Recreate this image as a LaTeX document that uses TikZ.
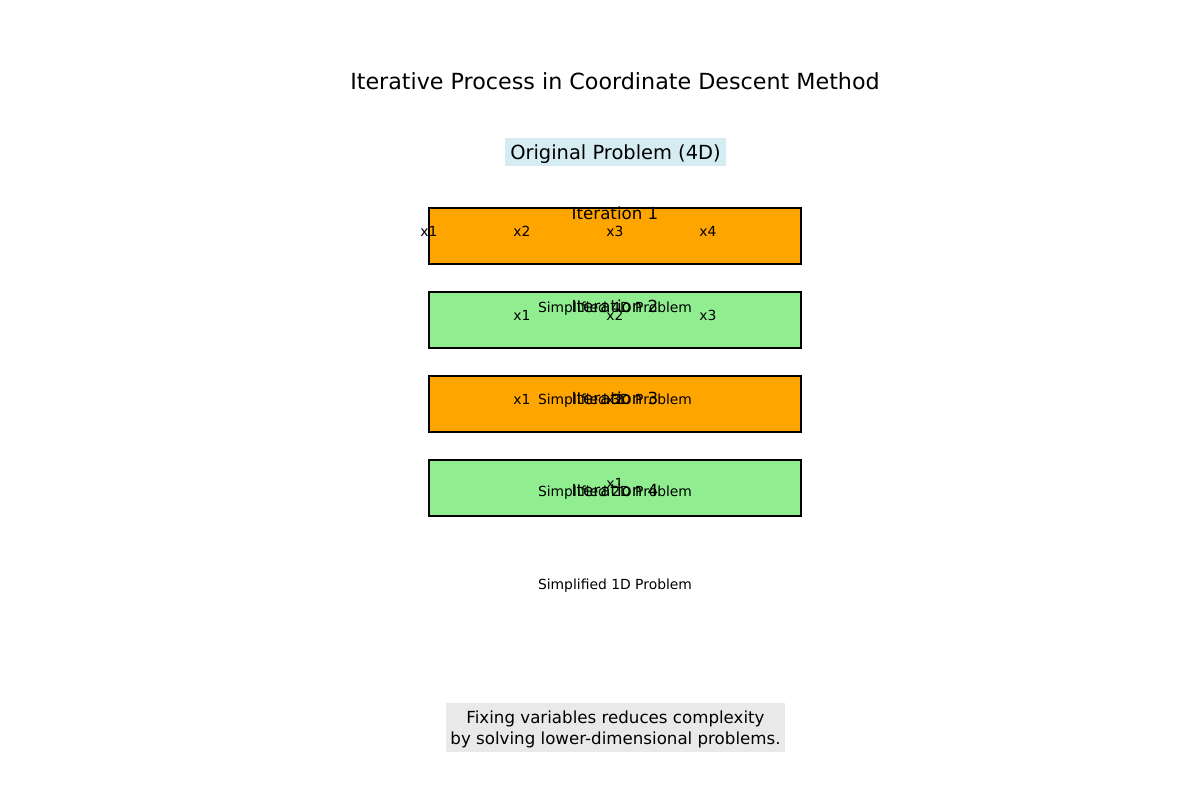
\documentclass[tikz,border=0pt]{standalone}
\usepackage{fontspec}
\setmainfont{DejaVu Sans}
\definecolor{orangeM}{HTML}{FFA500}
\definecolor{greenM}{HTML}{90EE90}
\definecolor{blueM}{HTML}{D6ECF3}
\definecolor{grayM}{HTML}{E9E9E9}
\begin{document}
\begin{tikzpicture}[x=0.72pt,y=-0.72pt,
  iterbox/.style={draw=black, line width=0.8pt, minimum width=267.84pt, minimum height=40.32pt, inner sep=0pt},
  itlabel/.style={inner sep=0pt, font=\fontsize{12}{14}\selectfont},
  varlabel/.style={inner sep=0pt, font=\fontsize{10}{12}\selectfont},
  simplabel/.style={inner sep=0pt, font=\fontsize{10}{12}\selectfont}]
\useasboundingbox (0,0) rectangle (1200,800);
% boxes
\node[iterbox, fill=orangeM] (b1) at (615,236) {};
\node[iterbox, fill=greenM]  (b2) at (615,320) {};
\node[iterbox, fill=orangeM] (b3) at (615,404) {};
\node[iterbox, fill=greenM]  (b4) at (615,488) {};
% title
\node[inner sep=0pt, font=\fontsize{16}{19}\selectfont] (title) at (615,81) {Iterative Process in Coordinate Descent Method};
\node[fill=blueM, minimum width=159.1pt, minimum height=20.2pt, inner sep=0pt] (origbox) at (615.5,152) {};
\node[inner sep=0pt, font=\fontsize{14}{17}\selectfont] (orig) at (615.5,154) {Original Problem (4D)};
% iteration labels
\node[itlabel] (it1) at (615,213) {Iteration 1};
\node[itlabel] (it2) at (615,306) {Iteration 2};
\node[itlabel] (it3) at (615,398) {Iteration 3};
\node[itlabel] (it4) at (615,490) {Iteration 4};
% variables
\node[varlabel] (v11) at (429,231) {x1};
\node[varlabel] (v12) at (522,231) {x2};
\node[varlabel] (v13) at (615,231) {x3};
\node[varlabel] (v14) at (708,231) {x4};
\node[varlabel] (v21) at (522,315) {x1};
\node[varlabel] (v22) at (615,315) {x2};
\node[varlabel] (v23) at (708,315) {x3};
\node[varlabel] (v31) at (522,399) {x1};
\node[varlabel] (v32) at (615,399) {x2};
\node[varlabel] (v41) at (615,483) {x1};
% simplified
\node[simplabel] (s1) at (615,309) {Simplified 4D Problem};
\node[simplabel] (s2) at (615,401) {Simplified 3D Problem};
\node[simplabel] (s3) at (615,493) {Simplified 2D Problem};
\node[simplabel] (s4) at (615,586) {Simplified 1D Problem};
% note
\node[fill=grayM, minimum width=244.1pt, minimum height=35.3pt, inner sep=0pt] (notebox) at (615.5,727.5) {};
\node[inner sep=0pt, align=center, font=\fontsize{12}{15.1}\selectfont] (note) at (615.5,729.5) {Fixing variables reduces complexity\\by solving lower-dimensional problems.};
\end{tikzpicture}
\end{document}
